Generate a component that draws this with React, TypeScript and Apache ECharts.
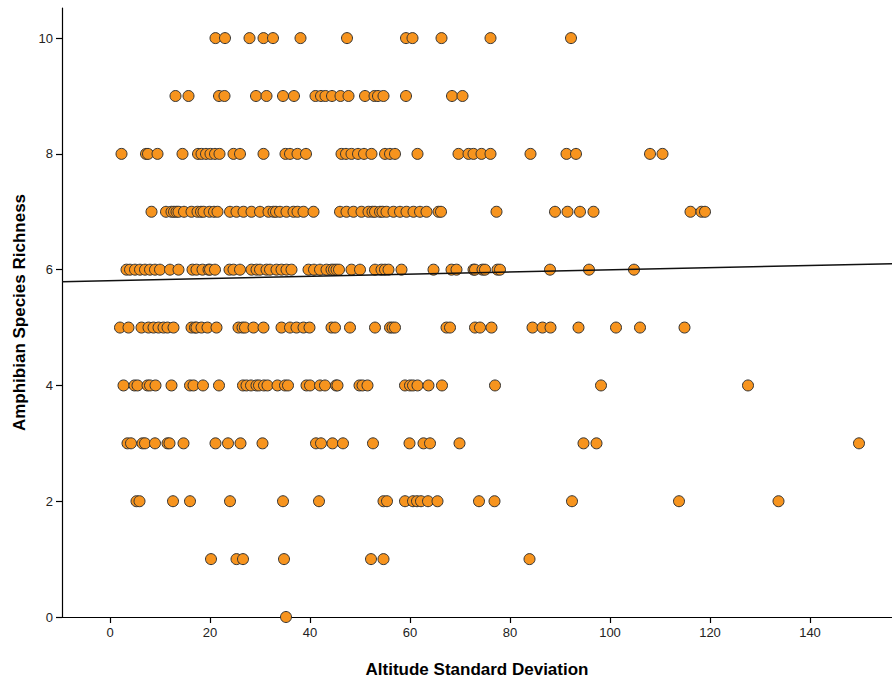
import React, { useEffect, useRef } from "react";
import * as echarts from "echarts";

// x values (Altitude Standard Deviation) for each richness level
const richness10 = [21.1, 23, 27.9, 30.7, 32.6, 38.1, 47.4, 59.2, 60.5, 66.3, 76.1, 92.2];
const richness9 = [13.1, 15.7, 21.8, 22.9, 29.2, 31.3, 34.6, 36.8, 41.1, 42.2, 43.1, 44.4, 46.1, 47.7, 51, 52.9, 53.6, 54.7, 59.2, 68.4, 70.5];
const richness8 = [2.3, 7.2, 7.6, 9.5, 14.5, 17.6, 18.3, 19.2, 20.1, 21, 21.9, 24.7, 26, 30.7, 35.1, 36, 37.5, 39.2, 46.3, 47.2, 48.3, 49.6, 50.8, 52.3, 55, 56, 57, 61.5, 69.7, 71.7, 72.7, 74.3, 76.1, 84.1, 91.3, 93.2, 108, 110.5];
const richness7 = [8.3, 11.2, 12.3, 12.8, 13.3, 13.7, 14.8, 16.3, 17.5, 18.2, 18.7, 19.9, 20.8, 21.5, 24, 25.3, 26.7, 28.3, 30, 31.7, 32.7, 33.2, 34, 35.3, 36.7, 37.5, 38.7, 40.7, 46, 47.3, 48.7, 50.3, 51.7, 52.5, 53, 54, 54.5, 55.3, 56.7, 58, 59.3, 60.7, 62, 63.3, 65.7, 66.2, 77.3, 89, 91.5, 94, 96.7, 116.1, 118.3, 119];
const richness6 = [3.3, 4, 5, 6, 7, 8, 9, 10, 12, 13.7, 16.5, 17.3, 18.5, 19.7, 20, 21, 23.9, 24.7, 26, 28.3, 29.3, 30, 31.3, 32, 33.3, 34.3, 35.3, 36.3, 39.7, 40.8, 42, 43.3, 44.3, 44.8, 45.3, 45.8, 48.3, 50, 53, 54.3, 55, 55.7, 58.3, 64.7, 68.3, 69.3, 72.7, 73, 74.5, 75, 77.5, 78, 88, 95.8, 104.8];
const richness5 = [2, 3.7, 6.3, 7.7, 8.7, 9.7, 10.7, 11.5, 12.7, 16.3, 17, 17.3, 18.3, 19.5, 21.3, 25.7, 26.5, 27, 28.7, 30.7, 34.3, 36, 37.3, 38.7, 39.9, 44.3, 45, 48, 53, 56, 56.5, 57, 67.3, 68, 73, 74, 76.3, 84.5, 86.5, 88.1, 93.7, 101.2, 106, 114.9];
const richness4 = [2.7, 4.9, 5.5, 7.5, 8, 9.1, 12.3, 16, 16.7, 18.6, 21.8, 26.6, 27.3, 28.2, 29.3, 29.8, 30.8, 31.5, 33.5, 35, 35.6, 39.3, 40, 42, 43, 45.2, 45.5, 49.9, 50.5, 51.5, 59, 60, 60.6, 61.5, 63.7, 66.4, 77, 98.2, 127.6];
const richness3 = [3.5, 4.2, 6.5, 7, 9, 11.5, 11.9, 14.7, 21.1, 23.6, 26.1, 30.5, 41.2, 42.2, 44.5, 46.6, 52.6, 59.9, 62.7, 64, 69.9, 94.7, 97.3, 149.8];
const richness2 = [5.3, 5.9, 12.6, 16, 24, 34.6, 41.8, 54.7, 55.4, 59, 60.6, 61.4, 62.2, 63.6, 65.5, 73.8, 76.9, 92.4, 113.8, 133.7];
const richness1 = [20.2, 25.3, 26.6, 34.8, 52.2, 54.7, 83.9];
const richness0 = [35.2];

const rows: [number, number[]][] = [
  [10, richness10], [9, richness9], [8, richness8], [7, richness7], [6, richness6],
  [5, richness5], [4, richness4], [3, richness3], [2, richness2], [1, richness1], [0, richness0],
];

const xTicks = [0, 20, 40, 60, 80, 100, 120, 140];
const yTicks = [0, 2, 4, 6, 8, 10];

// fit line
const fitIntercept = 5.81;
const fitSlope = 0.00187;

const X_MIN = -9.6;
const X_MAX = 156.4;
const Y_MIN = 0;
const Y_MAX = 10.52;

export default function App() {
  const ref = useRef<HTMLDivElement>(null);
  useEffect(() => {
    document.body.style.margin = "0";
    const chart = echarts.init(ref.current!, null, { renderer: "svg" });
    const points: number[][] = [];
    rows.forEach(([y, xs]) => xs.forEach((x) => points.push([x, y])));
    const fit = [
      [X_MIN, fitIntercept + fitSlope * X_MIN],
      [X_MAX, fitIntercept + fitSlope * X_MAX],
    ];
    const font = "'Liberation Sans', Arial, sans-serif";
    chart.setOption({
      animation: false,
      backgroundColor: "#fff",
      grid: { left: 62, right: 0, top: 8, bottom: 65, containLabel: false },
      xAxis: {
        type: "value",
        min: X_MIN,
        max: X_MAX,
        name: "Altitude Standard Deviation",
        nameLocation: "middle",
        nameGap: 44,
        nameTextStyle: { fontFamily: font, fontWeight: "bold", fontSize: 17, color: "#000" },
        axisLine: { show: true, onZero: false, lineStyle: { color: "#000", width: 1.2 } },
        axisTick: { show: true, customValues: xTicks, length: 6, lineStyle: { color: "#000", width: 1.2 } },
        axisLabel: { customValues: xTicks, fontFamily: font, fontSize: 13, color: "#222", margin: 9 },
        splitLine: { show: false },
      },
      yAxis: {
        type: "value",
        min: Y_MIN,
        max: Y_MAX,
        name: "Amphibian Species Richness",
        nameLocation: "middle",
        nameGap: 33,
        nameRotate: 90,
        nameTextStyle: { fontFamily: font, fontWeight: "bold", fontSize: 17, color: "#000" },
        axisLine: { show: true, onZero: false, lineStyle: { color: "#000", width: 1.2 } },
        axisTick: { show: true, customValues: yTicks, length: 6, lineStyle: { color: "#000", width: 1.2 } },
        axisLabel: { customValues: yTicks, fontFamily: font, fontSize: 13, color: "#222", margin: 9 },
        splitLine: { show: false },
      },
      series: [
        {
          type: "scatter",
          data: points,
          symbol: "circle",
          symbolSize: 11,
          clip: false,
          itemStyle: { color: "#f7941e", borderColor: "#333", borderWidth: 1, opacity: 1 },
        },
        {
          type: "line",
          data: fit,
          symbol: "none",
          lineStyle: { color: "#111", width: 1.6 },
          z: 3,
        },
      ],
    });
    return () => chart.dispose();
  }, []);
  return <div ref={ref} style={{ width: 892, height: 683, position: "absolute", left: 0, top: 0 }} />;
}
